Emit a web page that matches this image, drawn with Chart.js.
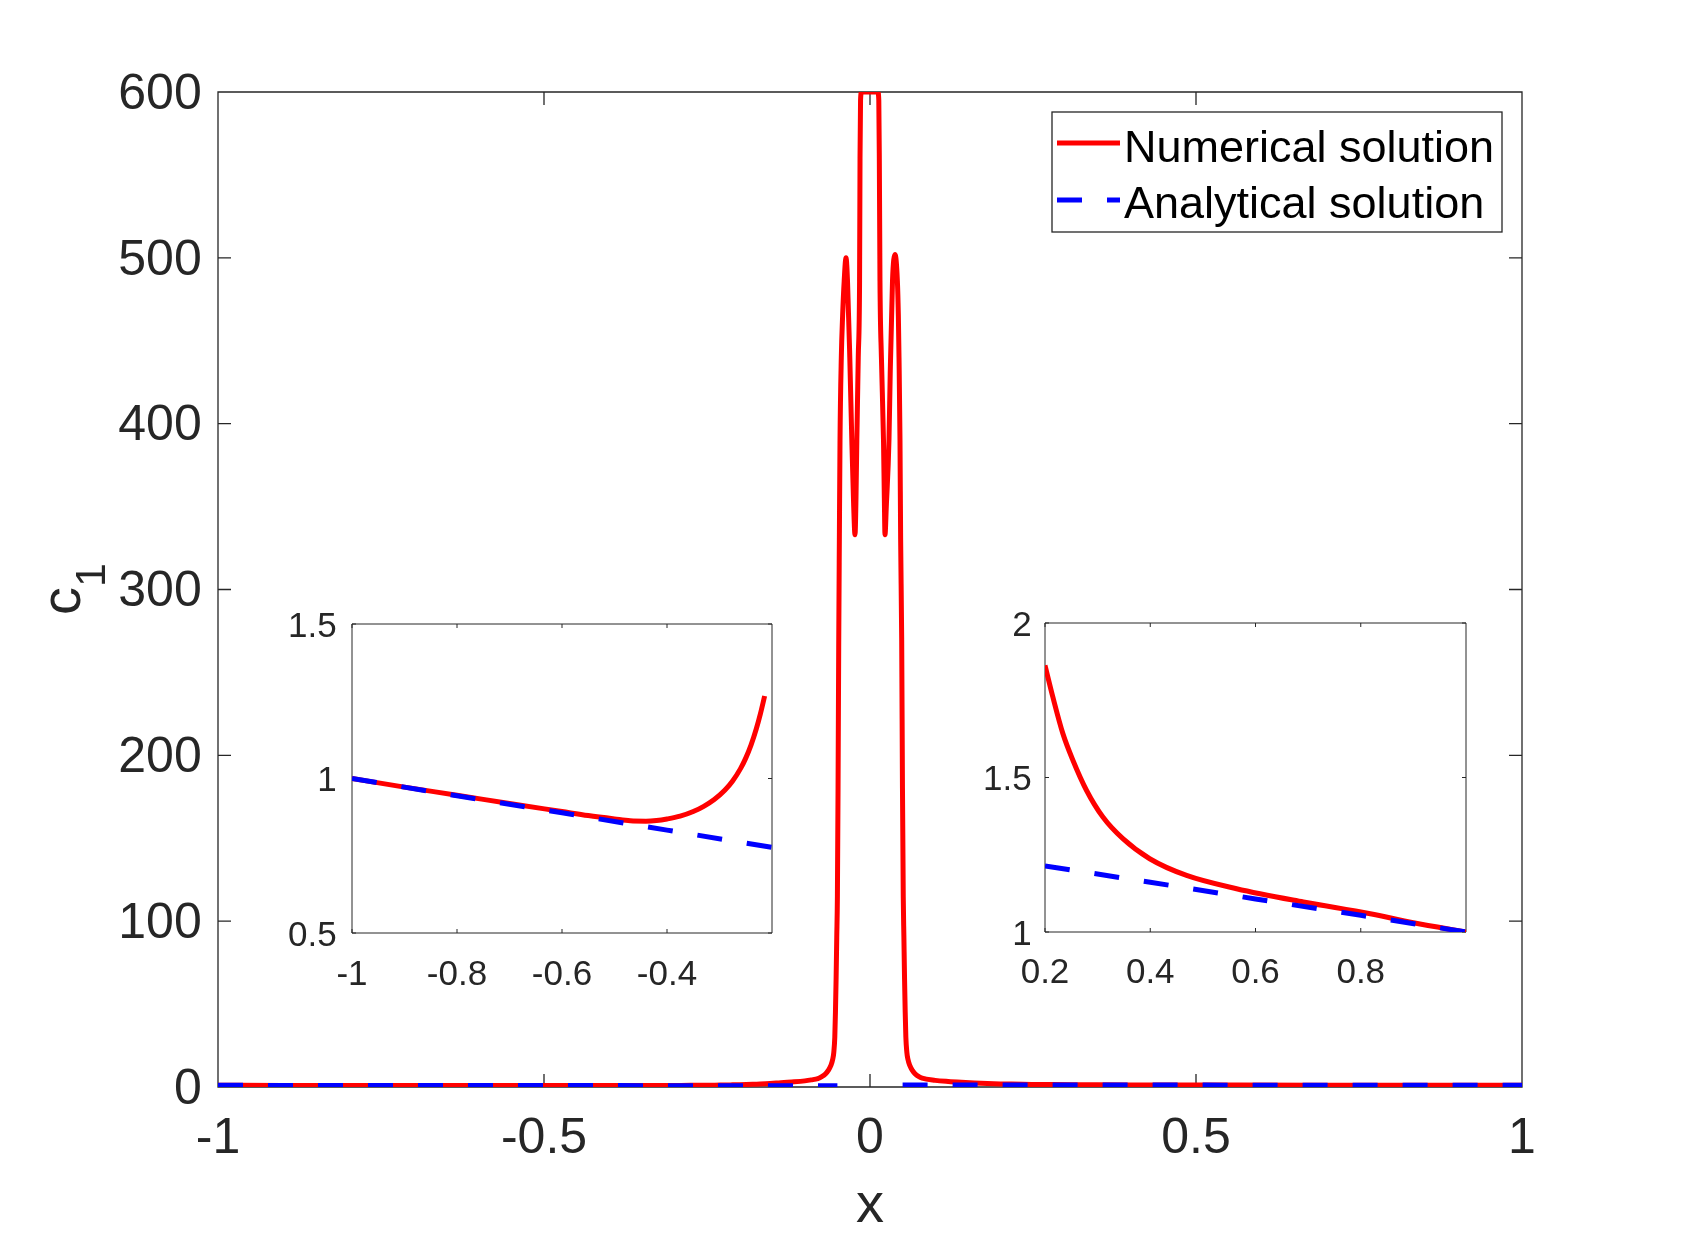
<!DOCTYPE html>
<html><head><meta charset="utf-8">
<script src="https://cdn.jsdelivr.net/npm/chart.js@4.4.0/dist/chart.umd.min.js"></script>
<style>
html,body{margin:0;padding:0;background:#fff;}
#wrap{position:relative;width:1682px;height:1236px;overflow:hidden;background:#fff;}
canvas{position:absolute;}
#main{left:0;top:0;}
#insetL{left:260px;top:580px;}
#insetR{left:960px;top:580px;}
</style></head><body>
<div id="wrap">
<canvas id="main" width="1682" height="1236"></canvas>
<canvas id="insetL" width="540" height="440"></canvas>
<canvas id="insetR" width="540" height="440"></canvas>
</div>
<script>
// ---------------- DATA ----------------
const seriesNames = ['Numerical solution', 'Analytical solution'];
const mainXTicks = [-1, -0.5, 0, 0.5, 1];
const mainYTicks = [0, 100, 200, 300, 400, 500, 600];
const insetLXTicks = [-1, -0.8, -0.6, -0.4];
const insetLYTicks = [0.5, 1, 1.5];
const insetRXTicks = [0.2, 0.4, 0.6, 0.8];
const insetRYTicks = [1, 1.5, 2];

// numerical solution c1(x)
const numX = [
  -1.000, -0.900, -0.800, -0.700, -0.600, -0.550, -0.500, -0.470, -0.440, -0.420,
  -0.400, -0.375, -0.350, -0.330, -0.310, -0.290, -0.275, -0.260, -0.250, -0.240,
  -0.230, -0.222, -0.214, -0.200, -0.180, -0.160, -0.140, -0.120, -0.100, -0.090,
  -0.080, -0.074, -0.068, -0.064, -0.060, -0.057, -0.0555, -0.054, -0.053, -0.052,
  -0.051, -0.050, -0.049, -0.048, -0.047, -0.046, -0.044, -0.042, -0.0396, -0.0368,
  -0.0345, -0.0310, -0.0279, -0.0250, -0.0230, -0.0215, -0.0202, -0.0180, -0.0160, -0.0153,
  -0.0145, -0.0130, 0.0000, 0.0120, 0.0135, 0.0143, 0.0153, 0.0175, 0.0207, 0.0220,
  0.0230, 0.0250, 0.0291, 0.0310, 0.0345, 0.0383, 0.0420, 0.0435, 0.0445, 0.0460,
  0.0470, 0.0486, 0.0498, 0.0510, 0.0520, 0.0530, 0.0540, 0.0550, 0.0565, 0.0580,
  0.0610, 0.0650, 0.0690, 0.0750, 0.0800, 0.1000, 0.1200, 0.1400, 0.1600, 0.1800,
  0.200, 0.215, 0.234, 0.253, 0.279, 0.310, 0.348, 0.399, 0.469, 0.564,
  0.691, 0.818, 0.900, 1.000
];
const numY = [
  1.000, 0.972, 0.946, 0.919, 0.893, 0.880, 0.869, 0.863, 0.862, 0.864,
  0.869, 0.878, 0.893, 0.910, 0.932, 0.962, 0.992, 1.032, 1.066, 1.108,
  1.160, 1.210, 1.267, 1.38, 1.62, 1.95, 2.45, 3.0, 3.7, 4.3,
  5.1, 6.2, 8.0, 10.0, 13.0, 17, 21, 30, 45, 65,
  90, 115, 180, 265, 330, 390, 440, 465, 486, 500,
  486, 440, 390, 350, 333, 355, 390, 440, 486, 560,
  595, 600, 600, 600, 595, 560, 486, 440, 390, 355,
  333, 350, 390, 430, 486, 502, 486, 465, 440, 390,
  330, 270, 180, 115, 90, 65, 45, 30, 21, 17,
  13, 10, 8.0, 6.2, 5.3, 4.0, 3.3, 2.8, 2.4, 2.1,
  1.863, 1.760, 1.642, 1.556, 1.458, 1.372, 1.302, 1.237, 1.183, 1.140,
  1.097, 1.059, 1.030, 1.000
];
// analytical solution (two branches)
const anaLeftX = [-1.0, -0.8, -0.6, -0.4, -0.2, -0.05];
const anaLeftY = [1.000, 0.944, 0.889, 0.833, 0.777, 0.735];
const anaRightX = [0.05, 0.2, 0.4, 0.6, 0.8, 1.0];
const anaRightY = [1.254, 1.214, 1.161, 1.107, 1.054, 1.000];

// ---------------- STYLE ----------------
const FONT = "'Liberation Sans', Arial, Helvetica, sans-serif";
const AX = '#262626';
const RED = '#ff0000';
const BLUE = '#0000ff';

function pts(xs, ys, lo, hi) {
  const out = [];
  xs.forEach((x, i) => { if (x >= lo - 1e-9 && x <= hi + 1e-9) out.push({x: x, y: ys[i]}); });
  return out;
}

const axesFrame = {
  id: 'axesFrame',
  beforeDraw(chart, args, o) {
    if (!o.fill) return;
    const a = chart.chartArea, ctx = chart.ctx;
    ctx.save(); ctx.fillStyle = o.fill;
    ctx.fillRect(a.left, a.top, a.right - a.left, a.bottom - a.top);
    ctx.restore();
  },
  beforeDatasetsDraw(chart, args, o) {
    const ctx = chart.ctx, a = chart.chartArea, x = chart.scales.x, y = chart.scales.y;
    ctx.save();
    ctx.strokeStyle = o.color; ctx.lineWidth = o.width;
    ctx.beginPath();
    ctx.rect(a.left, a.top, a.right - a.left, a.bottom - a.top);
    for (const t of x.ticks) {
      const p = x.getPixelForValue(t.value);
      ctx.moveTo(p, a.bottom); ctx.lineTo(p, a.bottom - o.len);
      ctx.moveTo(p, a.top); ctx.lineTo(p, a.top + o.len);
    }
    for (const t of y.ticks) {
      const p = y.getPixelForValue(t.value);
      ctx.moveTo(a.left, p); ctx.lineTo(a.left + o.len, p);
      ctx.moveTo(a.right, p); ctx.lineTo(a.right - o.len, p);
    }
    ctx.stroke();
    ctx.restore();
  }
};

const yTitle = {
  id: 'yTitle',
  afterDraw(chart, args, o) {
    const ctx = chart.ctx;
    ctx.save();
    ctx.translate(o.x, o.y);
    ctx.rotate(-Math.PI / 2);
    ctx.fillStyle = o.color;
    ctx.textAlign = 'left'; ctx.textBaseline = 'alphabetic';
    ctx.font = o.size + 'px ' + FONT;
    ctx.fillText(o.text, 0, 0);
    const w = ctx.measureText(o.text).width;
    ctx.font = o.subSize + 'px ' + FONT;
    ctx.fillText(o.sub, w, o.subDrop);
    ctx.restore();
  }
};

const boxLegend = {
  id: 'boxLegend',
  afterDraw(chart, args, o) {
    const ctx = chart.ctx;
    ctx.save();
    ctx.fillStyle = '#ffffff';
    ctx.fillRect(o.x, o.y, o.w, o.h);
    ctx.strokeStyle = AX; ctx.lineWidth = o.border;
    ctx.strokeRect(o.x, o.y, o.w, o.h);
    ctx.font = o.size + 'px ' + FONT;
    ctx.textAlign = 'left'; ctx.textBaseline = 'alphabetic';
    o.items.forEach((dsIndex, i) => {
      const ds = chart.data.datasets[dsIndex];
      ctx.beginPath();
      ctx.strokeStyle = ds.borderColor; ctx.lineWidth = ds.borderWidth;
      ctx.lineCap = 'butt';
      ctx.setLineDash(ds.borderDash || []);
      ctx.moveTo(o.lineX0, o.lineY[i]); ctx.lineTo(o.lineX1, o.lineY[i]);
      ctx.stroke();
      ctx.setLineDash([]);
      ctx.fillStyle = o.color;
      ctx.fillText(ds.label, o.textX, o.textY[i]);
    });
    ctx.restore();
  }
};

function linScale(min, max, tickVals, fontSize, pad, fitProp, fitVal, extra) {
  return Object.assign({
    type: 'linear', min: min, max: max,
    afterBuildTicks: s => { s.ticks = tickVals.map(v => ({value: v})); },
    afterFit: s => { s[fitProp] = fitVal; },
    grid: {display: false, drawTicks: false},
    border: {display: false},
    ticks: {
      font: {size: fontSize, family: FONT, lineHeight: 1},
      color: AX, padding: pad, maxRotation: 0, minRotation: 0, autoSkip: false,
      labelOffset: fitProp === 'width' ? 3 : 0,
      callback: v => String(v)
    }
  }, extra || {});
}

function redSet(data, label) {
  return {label: label, data: data, showLine: true, borderColor: RED, backgroundColor: RED,
    borderWidth: 5, pointRadius: 0, pointHoverRadius: 0, fill: false,
    cubicInterpolationMode: 'monotone', borderJoinStyle: 'round', borderCapStyle: 'butt', order: 1};
}
function blueSet(data, label) {
  return {label: label, data: data, showLine: true, borderColor: BLUE, backgroundColor: BLUE,
    borderWidth: 5, borderDash: [25, 25], pointRadius: 0, pointHoverRadius: 0, fill: false,
    tension: 0, borderJoinStyle: 'round', borderCapStyle: 'butt', order: 0};
}

Chart.defaults.font.family = FONT;

// ---------------- MAIN CHART ----------------
new Chart(document.getElementById('main'), {
  type: 'scatter',
  data: {
    datasets: [
      redSet(pts(numX, numY, -1, 1), seriesNames[0]),
      blueSet(pts(anaLeftX, anaLeftY, -1, 1), seriesNames[1]),
      blueSet(pts(anaRightX, anaRightY, -1, 1), seriesNames[1])
    ]
  },
  options: {
    responsive: false, animation: false, devicePixelRatio: 1, events: [],
    layout: {padding: {left: 0, top: 92, right: 160, bottom: 0}},
    scales: {
      x: linScale(-1, 1, mainXTicks, 50, 27, 'height', 149, {
        title: {display: true, text: 'x', color: AX,
          font: {size: 56, family: FONT, lineHeight: 1}, padding: {top: 0, bottom: 1.4}}
      }),
      y: linScale(0, 600, mainYTicks, 50, 16.3, 'width', 218)
    },
    plugins: {
      legend: {display: false},
      tooltip: {enabled: false},
      axesFrame: {color: AX, width: 1.3, len: 13},
      yTitle: {x: 80, y: 615, text: 'c', sub: '1', size: 56, subSize: 43, subDrop: 25, color: AX},
      boxLegend: {x: 1052, y: 112, w: 450, h: 120, border: 1.3, size: 45, color: '#000000',
        items: [0, 1], lineX0: 1057, lineX1: 1120, lineY: [143, 200],
        textX: 1124, textY: [161.5, 217.5]}
    }
  },
  plugins: [axesFrame, yTitle, boxLegend]
});

// ---------------- LEFT INSET ----------------
new Chart(document.getElementById('insetL'), {
  type: 'scatter',
  data: {
    datasets: [
      redSet(pts(numX, numY, -1, -0.214), seriesNames[0]),
      blueSet(pts(anaLeftX, anaLeftY, -1, -0.2), seriesNames[1])
    ]
  },
  options: {
    responsive: false, animation: false, devicePixelRatio: 1, events: [],
    layout: {padding: {left: 0, top: 44, right: 28, bottom: 0}},
    scales: {
      x: linScale(-1, -0.2, insetLXTicks, 35, 25, 'height', 87),
      y: linScale(0.5, 1.5, insetLYTicks, 35, 15.3, 'width', 92)
    },
    plugins: {
      legend: {display: false}, tooltip: {enabled: false},
      axesFrame: {color: AX, width: 1, len: 4, fill: '#ffffff'}
    }
  },
  plugins: [axesFrame]
});

// ---------------- RIGHT INSET ----------------
new Chart(document.getElementById('insetR'), {
  type: 'scatter',
  data: {
    datasets: [
      redSet(pts(numX, numY, 0.2, 1), seriesNames[0]),
      blueSet(pts(anaRightX, anaRightY, 0.2, 1), seriesNames[1])
    ]
  },
  options: {
    responsive: false, animation: false, devicePixelRatio: 1, events: [],
    layout: {padding: {left: 0, top: 43, right: 34, bottom: 0}},
    scales: {
      x: linScale(0.2, 1, insetRXTicks, 35, 24.3, 'height', 88),
      y: linScale(1, 2, insetRYTicks, 35, 13.3, 'width', 85)
    },
    plugins: {
      legend: {display: false}, tooltip: {enabled: false},
      axesFrame: {color: AX, width: 1, len: 4, fill: '#ffffff'}
    }
  },
  plugins: [axesFrame]
});
</script>
</body></html>
